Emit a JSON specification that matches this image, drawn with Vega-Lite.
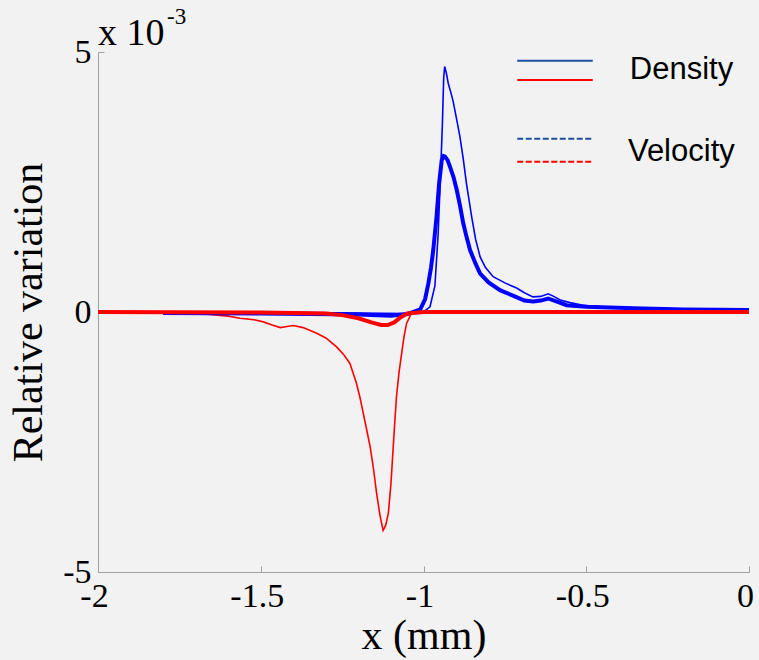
{
  "$schema": "https://vega.github.io/schema/vega-lite/v6.json",
  "width": 651,
  "height": 520,
  "autosize": {"type": "none"},
  "padding": {"left": 98, "top": 52, "right": 10, "bottom": 88},
  "background": "#f2f2f2",
  "config": {
    "view": {"stroke": null},
    "axis": {
      "grid": false,
      "domainColor": "#a0a0a0",
      "tickColor": "#a0a0a0",
      "tickSize": -6,
      "labelPadding": 13,
      "labelColor": "#000000",
      "titleFont": "Liberation Serif",
      "titleFontSize": 42,
      "titleFontWeight": "normal",
      "titleColor": "#000000"
    }
  },
  "datasets": {
    "curves": [
      {"series": "density_blue", "quantity": "Density", "comp": "blue", "x": -1.95, "y": 0},
      {"series": "density_blue", "quantity": "Density", "comp": "blue", "x": -1.5, "y": 0},
      {"series": "density_blue", "quantity": "Density", "comp": "blue", "x": -1.2, "y": -0.02},
      {"series": "density_blue", "quantity": "Density", "comp": "blue", "x": -1.05, "y": -0.03},
      {"series": "density_blue", "quantity": "Density", "comp": "blue", "x": -1.0, "y": 0},
      {"series": "density_blue", "quantity": "Density", "comp": "blue", "x": -0.98, "y": 0.1},
      {"series": "density_blue", "quantity": "Density", "comp": "blue", "x": -0.965, "y": 0.5},
      {"series": "density_blue", "quantity": "Density", "comp": "blue", "x": -0.955, "y": 1.5},
      {"series": "density_blue", "quantity": "Density", "comp": "blue", "x": -0.948, "y": 2.6},
      {"series": "density_blue", "quantity": "Density", "comp": "blue", "x": -0.942, "y": 3.6},
      {"series": "density_blue", "quantity": "Density", "comp": "blue", "x": -0.938, "y": 4.5},
      {"series": "density_blue", "quantity": "Density", "comp": "blue", "x": -0.935, "y": 4.72},
      {"series": "density_blue", "quantity": "Density", "comp": "blue", "x": -0.93, "y": 4.6},
      {"series": "density_blue", "quantity": "Density", "comp": "blue", "x": -0.924, "y": 4.4},
      {"series": "density_blue", "quantity": "Density", "comp": "blue", "x": -0.915, "y": 4.2},
      {"series": "density_blue", "quantity": "Density", "comp": "blue", "x": -0.909, "y": 4.05},
      {"series": "density_blue", "quantity": "Density", "comp": "blue", "x": -0.898, "y": 3.7},
      {"series": "density_blue", "quantity": "Density", "comp": "blue", "x": -0.888, "y": 3.37},
      {"series": "density_blue", "quantity": "Density", "comp": "blue", "x": -0.878, "y": 2.95},
      {"series": "density_blue", "quantity": "Density", "comp": "blue", "x": -0.868, "y": 2.47},
      {"series": "density_blue", "quantity": "Density", "comp": "blue", "x": -0.86, "y": 2.15},
      {"series": "density_blue", "quantity": "Density", "comp": "blue", "x": -0.852, "y": 1.83},
      {"series": "density_blue", "quantity": "Density", "comp": "blue", "x": -0.84, "y": 1.4},
      {"series": "density_blue", "quantity": "Density", "comp": "blue", "x": -0.826, "y": 1.06},
      {"series": "density_blue", "quantity": "Density", "comp": "blue", "x": -0.81, "y": 0.86},
      {"series": "density_blue", "quantity": "Density", "comp": "blue", "x": -0.786, "y": 0.68},
      {"series": "density_blue", "quantity": "Density", "comp": "blue", "x": -0.75, "y": 0.56},
      {"series": "density_blue", "quantity": "Density", "comp": "blue", "x": -0.714, "y": 0.46},
      {"series": "density_blue", "quantity": "Density", "comp": "blue", "x": -0.69, "y": 0.37},
      {"series": "density_blue", "quantity": "Density", "comp": "blue", "x": -0.664, "y": 0.29},
      {"series": "density_blue", "quantity": "Density", "comp": "blue", "x": -0.64, "y": 0.3},
      {"series": "density_blue", "quantity": "Density", "comp": "blue", "x": -0.617, "y": 0.35},
      {"series": "density_blue", "quantity": "Density", "comp": "blue", "x": -0.6, "y": 0.3},
      {"series": "density_blue", "quantity": "Density", "comp": "blue", "x": -0.58, "y": 0.23},
      {"series": "density_blue", "quantity": "Density", "comp": "blue", "x": -0.55, "y": 0.18},
      {"series": "density_blue", "quantity": "Density", "comp": "blue", "x": -0.51, "y": 0.13},
      {"series": "density_blue", "quantity": "Density", "comp": "blue", "x": -0.45, "y": 0.1},
      {"series": "density_blue", "quantity": "Density", "comp": "blue", "x": -0.3, "y": 0.07},
      {"series": "density_blue", "quantity": "Density", "comp": "blue", "x": -0.15, "y": 0.05},
      {"series": "density_blue", "quantity": "Density", "comp": "blue", "x": 0, "y": 0.04},

      {"series": "density_red", "quantity": "Density", "comp": "red", "x": -2, "y": 0},
      {"series": "density_red", "quantity": "Density", "comp": "red", "x": -1.8, "y": 0},
      {"series": "density_red", "quantity": "Density", "comp": "red", "x": -1.72, "y": -0.01},
      {"series": "density_red", "quantity": "Density", "comp": "red", "x": -1.666, "y": -0.04},
      {"series": "density_red", "quantity": "Density", "comp": "red", "x": -1.6, "y": -0.08},
      {"series": "density_red", "quantity": "Density", "comp": "red", "x": -1.564, "y": -0.12},
      {"series": "density_red", "quantity": "Density", "comp": "red", "x": -1.52, "y": -0.15},
      {"series": "density_red", "quantity": "Density", "comp": "red", "x": -1.492, "y": -0.19},
      {"series": "density_red", "quantity": "Density", "comp": "red", "x": -1.465, "y": -0.25},
      {"series": "density_red", "quantity": "Density", "comp": "red", "x": -1.44, "y": -0.3},
      {"series": "density_red", "quantity": "Density", "comp": "red", "x": -1.42, "y": -0.28},
      {"series": "density_red", "quantity": "Density", "comp": "red", "x": -1.4, "y": -0.26},
      {"series": "density_red", "quantity": "Density", "comp": "red", "x": -1.37, "y": -0.3},
      {"series": "density_red", "quantity": "Density", "comp": "red", "x": -1.328, "y": -0.41},
      {"series": "density_red", "quantity": "Density", "comp": "red", "x": -1.3, "y": -0.5},
      {"series": "density_red", "quantity": "Density", "comp": "red", "x": -1.267, "y": -0.67},
      {"series": "density_red", "quantity": "Density", "comp": "red", "x": -1.245, "y": -0.82},
      {"series": "density_red", "quantity": "Density", "comp": "red", "x": -1.226, "y": -0.99},
      {"series": "density_red", "quantity": "Density", "comp": "red", "x": -1.206, "y": -1.37},
      {"series": "density_red", "quantity": "Density", "comp": "red", "x": -1.195, "y": -1.65},
      {"series": "density_red", "quantity": "Density", "comp": "red", "x": -1.185, "y": -1.95},
      {"series": "density_red", "quantity": "Density", "comp": "red", "x": -1.175, "y": -2.25},
      {"series": "density_red", "quantity": "Density", "comp": "red", "x": -1.164, "y": -2.59},
      {"series": "density_red", "quantity": "Density", "comp": "red", "x": -1.154, "y": -3.0},
      {"series": "density_red", "quantity": "Density", "comp": "red", "x": -1.144, "y": -3.49},
      {"series": "density_red", "quantity": "Density", "comp": "red", "x": -1.134, "y": -3.9},
      {"series": "density_red", "quantity": "Density", "comp": "red", "x": -1.124, "y": -4.2},
      {"series": "density_red", "quantity": "Density", "comp": "red", "x": -1.116, "y": -4.1},
      {"series": "density_red", "quantity": "Density", "comp": "red", "x": -1.108, "y": -3.87},
      {"series": "density_red", "quantity": "Density", "comp": "red", "x": -1.1, "y": -3.3},
      {"series": "density_red", "quantity": "Density", "comp": "red", "x": -1.093, "y": -2.59},
      {"series": "density_red", "quantity": "Density", "comp": "red", "x": -1.088, "y": -2.1},
      {"series": "density_red", "quantity": "Density", "comp": "red", "x": -1.083, "y": -1.63},
      {"series": "density_red", "quantity": "Density", "comp": "red", "x": -1.075, "y": -1.15},
      {"series": "density_red", "quantity": "Density", "comp": "red", "x": -1.067, "y": -0.79},
      {"series": "density_red", "quantity": "Density", "comp": "red", "x": -1.06, "y": -0.48},
      {"series": "density_red", "quantity": "Density", "comp": "red", "x": -1.052, "y": -0.22},
      {"series": "density_red", "quantity": "Density", "comp": "red", "x": -1.04, "y": -0.06},
      {"series": "density_red", "quantity": "Density", "comp": "red", "x": -1.031, "y": 0},
      {"series": "density_red", "quantity": "Density", "comp": "red", "x": -0.5, "y": 0},
      {"series": "density_red", "quantity": "Density", "comp": "red", "x": 0, "y": 0},

      {"series": "velocity_blue", "quantity": "Velocity", "comp": "blue", "x": -1.8, "y": -0.02},
      {"series": "velocity_blue", "quantity": "Velocity", "comp": "blue", "x": -1.5, "y": -0.03},
      {"series": "velocity_blue", "quantity": "Velocity", "comp": "blue", "x": -1.2, "y": -0.05},
      {"series": "velocity_blue", "quantity": "Velocity", "comp": "blue", "x": -1.1, "y": -0.07},
      {"series": "velocity_blue", "quantity": "Velocity", "comp": "blue", "x": -1.05, "y": -0.04},
      {"series": "velocity_blue", "quantity": "Velocity", "comp": "blue", "x": -1.01, "y": 0.05},
      {"series": "velocity_blue", "quantity": "Velocity", "comp": "blue", "x": -0.995, "y": 0.25},
      {"series": "velocity_blue", "quantity": "Velocity", "comp": "blue", "x": -0.985, "y": 0.55},
      {"series": "velocity_blue", "quantity": "Velocity", "comp": "blue", "x": -0.977, "y": 0.85},
      {"series": "velocity_blue", "quantity": "Velocity", "comp": "blue", "x": -0.97, "y": 1.19},
      {"series": "velocity_blue", "quantity": "Velocity", "comp": "blue", "x": -0.96, "y": 1.83},
      {"series": "velocity_blue", "quantity": "Velocity", "comp": "blue", "x": -0.952, "y": 2.47},
      {"series": "velocity_blue", "quantity": "Velocity", "comp": "blue", "x": -0.944, "y": 2.92},
      {"series": "velocity_blue", "quantity": "Velocity", "comp": "blue", "x": -0.938, "y": 3.0},
      {"series": "velocity_blue", "quantity": "Velocity", "comp": "blue", "x": -0.934, "y": 2.99},
      {"series": "velocity_blue", "quantity": "Velocity", "comp": "blue", "x": -0.926, "y": 2.92},
      {"series": "velocity_blue", "quantity": "Velocity", "comp": "blue", "x": -0.919, "y": 2.8},
      {"series": "velocity_blue", "quantity": "Velocity", "comp": "blue", "x": -0.908, "y": 2.6},
      {"series": "velocity_blue", "quantity": "Velocity", "comp": "blue", "x": -0.898, "y": 2.35},
      {"series": "velocity_blue", "quantity": "Velocity", "comp": "blue", "x": -0.888, "y": 2.05},
      {"series": "velocity_blue", "quantity": "Velocity", "comp": "blue", "x": -0.878, "y": 1.71},
      {"series": "velocity_blue", "quantity": "Velocity", "comp": "blue", "x": -0.868, "y": 1.45},
      {"series": "velocity_blue", "quantity": "Velocity", "comp": "blue", "x": -0.857, "y": 1.19},
      {"series": "velocity_blue", "quantity": "Velocity", "comp": "blue", "x": -0.84, "y": 0.93},
      {"series": "velocity_blue", "quantity": "Velocity", "comp": "blue", "x": -0.826, "y": 0.74},
      {"series": "velocity_blue", "quantity": "Velocity", "comp": "blue", "x": -0.8, "y": 0.57},
      {"series": "velocity_blue", "quantity": "Velocity", "comp": "blue", "x": -0.765, "y": 0.42},
      {"series": "velocity_blue", "quantity": "Velocity", "comp": "blue", "x": -0.72, "y": 0.3},
      {"series": "velocity_blue", "quantity": "Velocity", "comp": "blue", "x": -0.69, "y": 0.22},
      {"series": "velocity_blue", "quantity": "Velocity", "comp": "blue", "x": -0.663, "y": 0.2},
      {"series": "velocity_blue", "quantity": "Velocity", "comp": "blue", "x": -0.64, "y": 0.22},
      {"series": "velocity_blue", "quantity": "Velocity", "comp": "blue", "x": -0.617, "y": 0.26},
      {"series": "velocity_blue", "quantity": "Velocity", "comp": "blue", "x": -0.59, "y": 0.2},
      {"series": "velocity_blue", "quantity": "Velocity", "comp": "blue", "x": -0.56, "y": 0.13},
      {"series": "velocity_blue", "quantity": "Velocity", "comp": "blue", "x": -0.5, "y": 0.1},
      {"series": "velocity_blue", "quantity": "Velocity", "comp": "blue", "x": -0.356, "y": 0.07},
      {"series": "velocity_blue", "quantity": "Velocity", "comp": "blue", "x": -0.2, "y": 0.05},
      {"series": "velocity_blue", "quantity": "Velocity", "comp": "blue", "x": 0, "y": 0.04},

      {"series": "velocity_red", "quantity": "Velocity", "comp": "red", "x": -2, "y": 0},
      {"series": "velocity_red", "quantity": "Velocity", "comp": "red", "x": -1.5, "y": -0.01},
      {"series": "velocity_red", "quantity": "Velocity", "comp": "red", "x": -1.3, "y": -0.03},
      {"series": "velocity_red", "quantity": "Velocity", "comp": "red", "x": -1.25, "y": -0.06},
      {"series": "velocity_red", "quantity": "Velocity", "comp": "red", "x": -1.2, "y": -0.12},
      {"series": "velocity_red", "quantity": "Velocity", "comp": "red", "x": -1.16, "y": -0.2},
      {"series": "velocity_red", "quantity": "Velocity", "comp": "red", "x": -1.13, "y": -0.25},
      {"series": "velocity_red", "quantity": "Velocity", "comp": "red", "x": -1.11, "y": -0.25},
      {"series": "velocity_red", "quantity": "Velocity", "comp": "red", "x": -1.09, "y": -0.2},
      {"series": "velocity_red", "quantity": "Velocity", "comp": "red", "x": -1.07, "y": -0.1},
      {"series": "velocity_red", "quantity": "Velocity", "comp": "red", "x": -1.05, "y": -0.03},
      {"series": "velocity_red", "quantity": "Velocity", "comp": "red", "x": -1.0, "y": 0},
      {"series": "velocity_red", "quantity": "Velocity", "comp": "red", "x": -0.5, "y": 0},
      {"series": "velocity_red", "quantity": "Velocity", "comp": "red", "x": 0, "y": 0}
    ],
    "one": [{}]
  },
  "layer": [
    {
      "data": {"name": "curves"},
      "transform": [{"filter": "datum.quantity === 'Density'"}],
      "mark": {"type": "line", "strokeWidth": 1.6, "clip": true},
      "encoding": {
        "x": {
          "field": "x", "type": "quantitative",
          "scale": {"domain": [-2, 0], "nice": false},
          "axis": {
            "title": "x (mm)", "values": [-2, -1.5, -1, -0.5, 0], "labelExpr": "'' + datum.value",
            "titlePadding": 2, "labelFlush": false, "labelOffset": -4,
            "labelFont": "Times New Roman", "labelFontSize": 34
          }
        },
        "y": {
          "field": "y", "type": "quantitative",
          "scale": {"domain": [-5, 5], "nice": false, "zero": false},
          "axis": {
            "title": "Relative variation", "values": [-5, 0, 5], "labelExpr": "'' + datum.value",
            "titlePadding": 12, "labelFlush": false,
            "labelFont": "serif", "labelFontSize": 34
          }
        },
        "color": {"field": "comp", "type": "nominal", "scale": {"domain": ["blue", "red"], "range": ["#0000ff", "#ff0000"]}, "legend": null},
        "detail": {"field": "series"},
        "order": {"field": "x", "type": "quantitative"}
      }
    },
    {
      "data": {"name": "curves"},
      "transform": [{"filter": "datum.quantity === 'Velocity'"}],
      "mark": {"type": "line", "strokeWidth": 4, "clip": true},
      "encoding": {
        "x": {"field": "x", "type": "quantitative"},
        "y": {"field": "y", "type": "quantitative"},
        "color": {"field": "comp", "type": "nominal", "legend": null},
        "detail": {"field": "series"},
        "order": {"field": "x", "type": "quantitative"}
      }
    },
    {
      "data": {"name": "one"},
      "mark": {"type": "rule", "color": "#1f4e9e", "strokeWidth": 2},
      "encoding": {"x": {"datum": -0.712}, "x2": {"datum": -0.48}, "y": {"datum": 4.83}}
    },
    {
      "data": {"name": "one"},
      "mark": {"type": "rule", "color": "#ff0000", "strokeWidth": 2},
      "encoding": {"x": {"datum": -0.712}, "x2": {"datum": -0.48}, "y": {"datum": 4.46}}
    },
    {
      "data": {"name": "one"},
      "mark": {"type": "rule", "color": "#1f4e9e", "strokeWidth": 2, "strokeDash": [6, 2.5]},
      "encoding": {"x": {"datum": -0.712}, "x2": {"datum": -0.48}, "y": {"datum": 3.33}}
    },
    {
      "data": {"name": "one"},
      "mark": {"type": "rule", "color": "#ff0000", "strokeWidth": 2, "strokeDash": [6, 2.5]},
      "encoding": {"x": {"datum": -0.712}, "x2": {"datum": -0.48}, "y": {"datum": 2.89}}
    },
    {
      "data": {"name": "one"},
      "mark": {"type": "text", "text": "Density", "font": "Liberation Sans", "fontSize": 31, "align": "left", "baseline": "middle", "color": "#000000"},
      "encoding": {"x": {"datum": -0.366}, "y": {"datum": 4.65}}
    },
    {
      "data": {"name": "one"},
      "mark": {"type": "text", "text": "Velocity", "font": "Liberation Sans", "fontSize": 31, "align": "left", "baseline": "middle", "color": "#000000"},
      "encoding": {"x": {"datum": -0.372}, "y": {"datum": 3.08}}
    },
    {
      "data": {"name": "one"},
      "mark": {"type": "text", "text": "x 10", "font": "Liberation Serif", "fontSize": 38, "align": "left", "baseline": "alphabetic", "dy": -7, "color": "#000000"},
      "encoding": {"x": {"datum": -2}, "y": {"datum": 5}}
    },
    {
      "data": {"name": "one"},
      "mark": {"type": "text", "text": "-3", "font": "Liberation Serif", "fontSize": 23, "align": "left", "baseline": "alphabetic", "dx": 69, "dy": -28, "color": "#000000"},
      "encoding": {"x": {"datum": -2}, "y": {"datum": 5}}
    }
  ]
}
